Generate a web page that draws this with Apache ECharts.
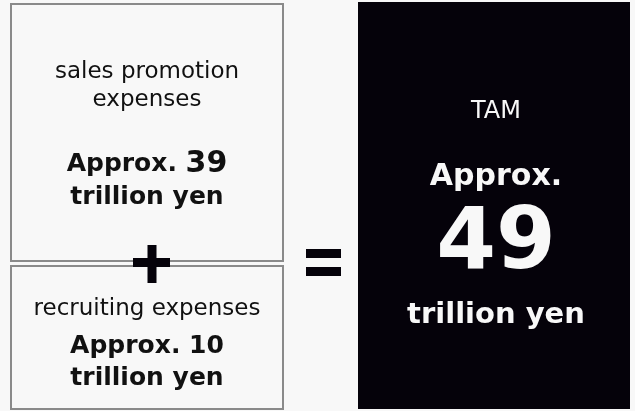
<!DOCTYPE html>
<html>
<head>
<meta charset="utf-8">
<style>
  html, body { margin: 0; padding: 0; background: #f8f8f8; }
  #chart { width: 635px; height: 411px; }
</style>
<script src="https://cdn.jsdelivr.net/npm/echarts@6/dist/echarts.min.js"></script>
</head>
<body>
<div id="chart"></div>
<script>
// Market size breakdown (trillion yen)
const segmentNames = [['sales promotion', 'expenses'], ['recruiting expenses']];
const segmentValues = [39, 10];
const totalName = 'TAM';
const totalValue = 49;
const unitText = 'trillion yen';
const approxText = 'Approx.';

const FONT = '"DejaVu Sans", Verdana, sans-serif';
const chart = echarts.init(document.getElementById('chart'), null, { renderer: 'canvas' });

function txt(x, y, text, size, weight, color) {
  return {
    type: 'text',
    x: x, y: y,
    style: {
      text: text,
      fontFamily: FONT,
      fontSize: size,
      fontWeight: weight,
      fill: color,
      align: 'center',
      verticalAlign: 'middle'
    }
  };
}

const boxes = [
  { x: 11, y: 4, w: 272, h: 257 },
  { x: 11, y: 266, w: 272, h: 143 }
];

const elements = [];

// Component boxes
boxes.forEach(function (b) {
  elements.push({
    type: 'rect',
    shape: { x: b.x, y: b.y, width: b.w, height: b.h },
    style: { fill: '#f8f8f8', stroke: '#8a8a8a', lineWidth: 2 }
  });
});

// Sales promotion box text
const cx = 147;
elements.push(txt(cx, 72, segmentNames[0][0], 23, 'normal', '#111'));
elements.push(txt(cx, 100, segmentNames[0][1], 23, 'normal', '#111'));
elements.push({
  type: 'text', x: cx, y: 164,
  style: {
    text: '{a|' + approxText + ' }{b|' + segmentValues[0] + '}',
    align: 'center', verticalAlign: 'middle',
    rich: {
      a: { fontFamily: FONT, fontSize: 25, fontWeight: 'bold', fill: '#111' },
      b: { fontFamily: FONT, fontSize: 30, fontWeight: 'bold', fill: '#111' }
    }
  }
});
elements.push(txt(cx, 197, unitText, 25, 'bold', '#111'));

// Recruiting box text
elements.push(txt(cx, 309, segmentNames[1][0], 23, 'normal', '#111'));
elements.push(txt(cx, 346, approxText + ' ' + segmentValues[1], 25, 'bold', '#111'));
elements.push(txt(cx, 378, unitText, 25, 'bold', '#111'));

// Plus sign
elements.push({ type: 'rect', shape: { x: 133, y: 258, width: 37, height: 9 }, style: { fill: '#05020a' } });
elements.push({ type: 'rect', shape: { x: 147.5, y: 245, width: 9, height: 38 }, style: { fill: '#05020a' } });

// Equals sign
elements.push({ type: 'rect', shape: { x: 306, y: 249, width: 35, height: 9 }, style: { fill: '#05020a' } });
elements.push({ type: 'rect', shape: { x: 306, y: 267, width: 35, height: 9 }, style: { fill: '#05020a' } });

// Total box
elements.push({ type: 'rect', shape: { x: 358, y: 2, width: 272, height: 407 }, style: { fill: '#05020a' } });
const tx = 496;
elements.push(txt(tx, 112, totalName, 24, 'normal', '#f8f8f8'));
elements.push(txt(tx, 177, approxText, 30, 'bold', '#f8f8f8'));
elements.push(txt(tx, 246, String(totalValue), 86, 'bold', '#f8f8f8'));
elements.push(txt(tx, 315, unitText, 29, 'bold', '#f8f8f8'));

chart.setOption({
  backgroundColor: '#f8f8f8',
  animation: false,
  graphic: { elements: elements }
});
</script>
</body>
</html>
